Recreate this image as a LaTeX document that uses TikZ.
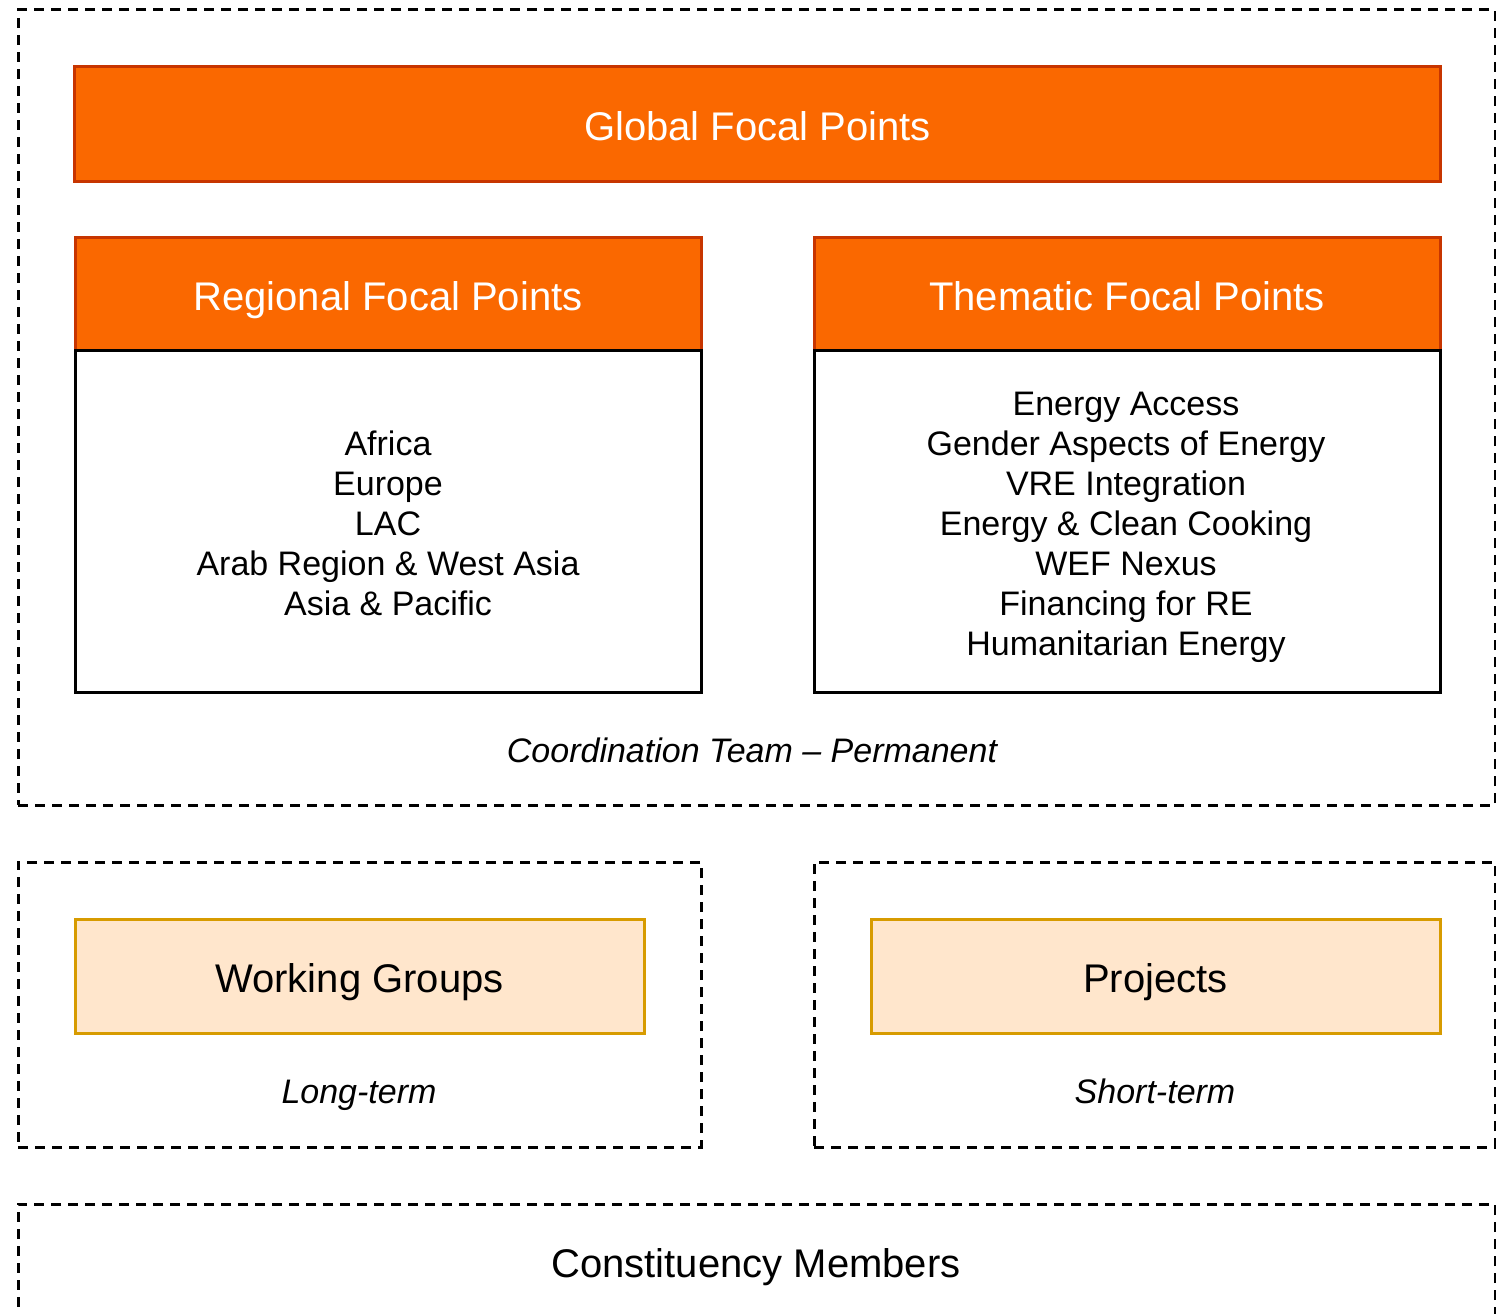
\documentclass[tikz,border=0pt]{standalone}
\usepackage{fontspec}
\setmainfont{Liberation Sans}
\definecolor{orfill}{HTML}{FA6800}
\definecolor{orline}{HTML}{C73500}
\definecolor{pchfill}{HTML}{FFE6CC}
\definecolor{pchline}{HTML}{D79B00}
\tikzset{
  bigtxt/.style={font=\fontsize{40}{47}\selectfont, text height=32pt, text depth=0pt},
  bodytxt/.style={font=\fontsize{34}{40}\selectfont, align=center, inner sep=0pt},
  orangebox/.style={draw=orline, fill=orfill, line width=3pt, text=white, bigtxt, inner sep=0pt},
  whitebox/.style={draw=black, fill=white, line width=3pt, inner sep=0pt},
  peachbox/.style={draw=pchline, fill=pchfill, line width=3pt, bigtxt, inner sep=0pt},
  dashbox/.style={draw=black, line width=3pt, dash pattern=on 10pt off 7pt, inner sep=0pt},
  caption/.style={font=\fontsize{34}{40}\selectfont\itshape, inner sep=0pt, text height=24.3pt, text depth=0pt},
}
\begin{document}
\begin{tikzpicture}[x=1pt,y=-1pt]
\useasboundingbox (0,0) rectangle (1496,1314);
\clip (0,0) rectangle (1496,1314);
\fill[white] (0,0) rectangle (1496,1314);
% containers
\node[dashbox, minimum width=1477pt, minimum height=795pt] (team) at (756.5,407.5) {};
\node[dashbox, minimum width=683pt, minimum height=285pt] (wgc) at (359.5,1004.5) {};
\node[dashbox, minimum width=681pt, minimum height=285pt] (prc) at (1154.5,1004.5) {};
\node[dashbox, minimum width=1477pt, minimum height=200pt] (cmc) at (756.5,1304) {};
% global
\node[orangebox, minimum width=1366pt, minimum height=114pt] (global) at (757.5,124) {Global Focal Points};
% regional
\node[orangebox, minimum width=626pt, minimum height=114pt] (reghead) at (388,294) {Regional Focal Points};
\node[whitebox, minimum width=626pt, minimum height=342pt] (regbody) at (388,521) {};
\node[bodytxt] (regtxt) at (388,523) {Africa\\Europe\\LAC\\Arab Region \& West Asia\\Asia \& Pacific};
% thematic
\node[orangebox, minimum width=626pt, minimum height=114pt] (thehead) at (1127,294) {Thematic Focal Points};
\node[whitebox, minimum width=626pt, minimum height=342pt] (thebody) at (1127,521) {};
\node[bodytxt] (thetxt) at (1126,527) {Energy Access\\Gender Aspects of Energy\\VRE Integration\\Energy \& Clean Cooking\\WEF Nexus\\Financing for RE\\Humanitarian Energy};
\node[caption] (teamlbl) at (752,750) {Coordination Team -- Permanent};
% working groups / projects
\node[peachbox, minimum width=569pt, minimum height=114pt] (wg) at (359.5,976) {Working Groups};
\node[caption] (wglbl) at (359,1091) {Long-term};
\node[peachbox, minimum width=569pt, minimum height=114pt] (proj) at (1155.5,976) {Projects};
\node[caption] (prlbl) at (1155,1091) {Short-term};
% constituency
\node[bigtxt, inner sep=0pt] (cm) at (756,1261.5) {Constituency Members};
\end{tikzpicture}
\end{document}
